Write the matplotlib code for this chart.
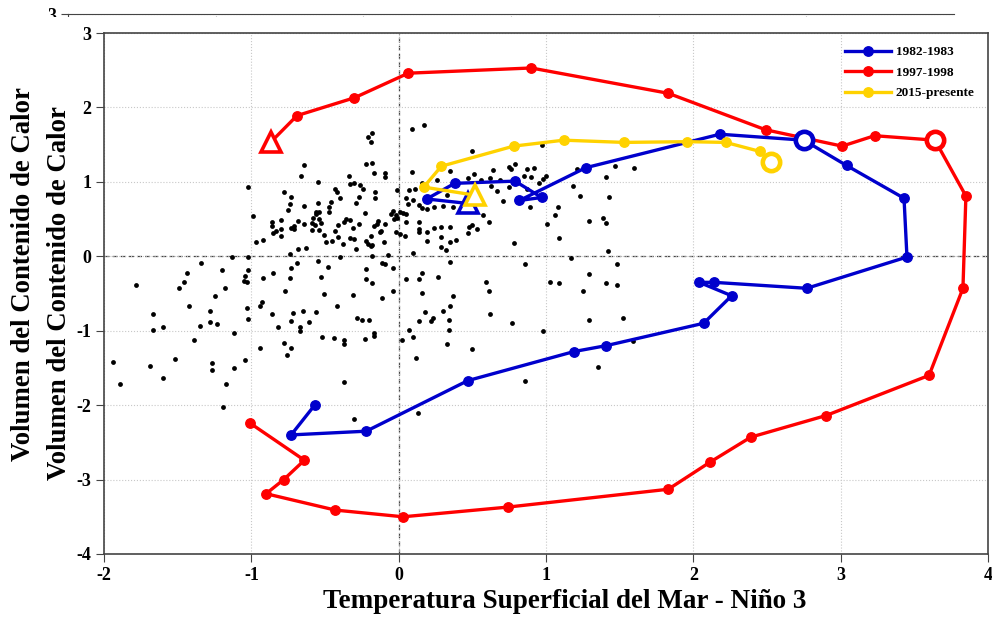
import numpy as np
import matplotlib.pyplot as plt
from matplotlib.patches import Rectangle

plt.rcParams['font.family'] = ['Liberation Serif', 'DejaVu Serif']
plt.rcParams['font.weight'] = 'bold'
plt.rcParams['axes.unicode_minus'] = False

# puntos mensuales observados (TSM Nino 3, contenido de calor)
sst_obs = [
    -1.02, -0.64, -0.66, -0.55, -0.22, -0.18, -0.17, -0.09, -0.09, -0.34,
    -0.78, -0.73, -0.74, -0.75, -0.64, -0.55, -0.56, -0.54, -0.43, -0.42,
    -0.40, -0.33, -0.30, -0.29, -0.27, -0.26, -0.24, -0.16, -0.16, -0.01,
    0.05, 0.06, 0.07, -0.99, -0.86, -0.86, -0.85, -0.83, -0.80, -0.80,
    -0.80, -0.97, -0.92, -0.68, -0.71, -0.73, -0.71, -0.64, -0.59, -0.59,
    -0.58, -0.57, -0.56, -0.54, -0.53, -0.54, -0.51, -0.49, -0.47, -0.47,
    -0.46, -0.45, -0.43, -0.41, -0.41, -0.38, -0.37, -0.36, -0.33, -0.33,
    -0.31, -0.30, -0.29, -0.27, -0.23, -0.22, -0.21, -0.19, -0.19, -0.18,
    -0.17, -0.15, -0.14, -0.13, -0.12, -0.10, -0.09, -0.05, -0.04, -0.03,
    -0.02, -0.01, 0.01, 0.03, 0.05, 0.05, -0.02, 0.01, 0.04, -1.34,
    -1.44, -1.46, -1.49, -1.78, -1.13, -1.02, -1.20, -1.18, -1.02, -1.04,
    -1.05, -1.03, -0.92, -0.85, -0.74, -0.73, -0.69, -0.68, -0.63, -0.74,
    -0.55, -0.48, -0.53, -0.40, -0.18, -0.07, -0.11, -0.09, -0.04, -0.22,
    -0.22, -0.18, -0.11, -0.04, 0.05, -1.25, -1.42, -1.28, -1.28, -1.23,
    -1.35, -1.39, -1.67, -1.67, -1.60, -1.12, -1.03, -1.02, -0.94, -0.93,
    -0.86, -0.82, -0.77, -0.72, -0.73, -0.67, -0.67, -0.65, -0.61, -0.56,
    -0.51, -0.42, -0.52, -0.44, -0.37, -0.37, -0.31, -0.28, -0.25, -0.20,
    -0.23, -0.17, -0.17, 0.02, 0.07, -1.94, -1.89, -1.69, -1.60, -1.52,
    -1.27, -1.27, -1.17, -1.12, -1.04, -0.94, -0.78, -0.76, -0.73, -0.37,
    -1.19, -0.30, -0.21, -0.19, -0.18,
    0.09, 0.17, 0.50, 0.97, 0.35, 0.09, 0.11, 0.16, 0.26, 0.47,
    0.51, 0.56, 0.62, 0.64, 0.69, 0.75, 0.76, 0.79, 0.87, 0.92,
    0.85, 0.90, 0.95, 0.98, 1.00, 0.67, 0.71, 0.63, 0.75, 0.87,
    0.89, 1.08, 1.06, 1.18, 1.23, 1.21, 1.41, 1.43, 1.47, 1.60,
    1.29, 1.39, 1.41, 0.10, 0.14, 0.16, 0.19, 0.24, 0.30, 0.33,
    0.37, 0.14, 0.14, 0.14, 0.19, 0.24, 0.29, 0.29, 0.35, 0.39,
    0.35, 0.47, 0.48, 0.50, 0.53, 0.57, 0.61, 0.19, 0.29, 0.32,
    0.10, 0.16, 0.14, 0.16, 0.27, 0.35, 0.37, 0.35, 0.30, 0.34,
    0.18, 0.14, 0.22, 0.23, 0.34, 0.10, 0.12, 0.33, 0.50, 0.59,
    0.61, 0.62, 0.77, 0.78, 0.86, 0.98, 1.01, 1.03, 1.09, 1.09,
    1.17, 1.25, 1.29, 1.29, 1.41, 1.42, 1.48, 1.48, 1.52, 1.59,
    0.13, 0.86, 1.35,
]
wwv_obs = [
    0.93, 1.22, 1.08, 1.00, 1.24, 1.26, 1.12, 1.12, 1.06, 1.08,
    0.87, 0.79, 0.70, 0.62, 0.67, 0.72, 0.60, 0.59, 0.91, 0.86,
    0.78, 0.97, 0.99, 0.71, 0.79, 0.96, 0.90, 0.86, 0.78, 0.89,
    0.78, 0.70, 0.89, 0.54, 0.46, 0.41, 0.31, 0.34, 0.37, 0.49,
    0.27, 0.19, 0.22, 0.47, 0.41, 0.38, 0.36, 0.44, 0.45, 0.35,
    0.51, 0.42, 0.57, 0.50, 0.45, 0.35, 0.29, 0.19, 0.59, 0.66,
    0.73, 0.20, 0.34, 0.26, 0.42, 0.17, 0.46, 0.50, 0.24, 0.49,
    0.38, 0.23, 0.10, 0.43, 0.58, 0.21, 0.17, 0.14, 0.27, 0.15,
    0.41, 0.43, 0.47, 0.33, 0.34, 0.19, 0.44, 0.57, 0.61, 0.50,
    0.55, 0.52, 0.59, 0.58, 0.57, 0.46, 0.32, 0.30, 0.27, -0.09,
    -0.22, -0.35, -0.42, -0.39, -0.01, -0.01, -0.19, -0.42, -0.19, -0.27,
    -0.33, -0.34, -0.29, -0.22, -0.29, -0.16, -0.09, 0.10, 0.11, 0.03,
    -0.06, -0.14, -0.28, -0.01, 0.00, 0.02, -0.09, -0.10, -0.16, -0.17,
    -0.30, -0.36, -0.56, -0.46, -0.30, -0.54, -0.67, -0.73, -0.88, -0.91,
    -0.94, -1.13, -0.78, -0.99, -0.95, -1.03, -0.69, -0.84, -0.67, -0.61,
    -0.77, -0.95, -0.47, -0.76, -0.87, -0.95, -1.01, -0.74, -0.88, -0.75,
    -0.51, -0.67, -1.09, -1.10, -1.12, -1.18, -0.52, -0.83, -0.86, -0.86,
    -1.11, -1.03, -1.07, -1.12, -0.99, -1.42, -1.71, -1.48, -1.63, -1.38,
    -1.43, -1.53, -1.71, -1.50, -1.40, -1.23, -1.17, -1.33, -1.23, -1.69,
    -2.03, -2.18, 1.60, 1.53, 1.65,
    1.71, 1.77, 1.42, 1.49, 1.15, 1.13, 0.90, 0.99, 1.03, 1.05,
    1.11, 1.03, 1.05, 1.16, 1.03, 1.20, 1.17, 1.24, 1.17, 1.18,
    1.08, 1.06, 0.99, 1.04, 1.08, 0.88, 0.74, 0.95, 0.93, 0.91,
    0.66, 0.66, 0.56, 0.94, 0.81, 1.17, 1.06, 0.80, 1.21, 1.18,
    0.47, 0.52, 0.45, 0.75, 0.69, 0.65, 0.63, 0.66, 0.67, 0.82,
    0.66, 0.46, 0.37, 0.33, 0.33, 0.38, 0.39, 0.26, 0.39, 0.22,
    0.19, 0.31, 0.40, 0.42, 0.37, 0.56, 0.46, 0.20, 0.13, 0.08,
    0.05, -0.50, -0.30, -0.22, -0.28, -0.08, -0.54, -0.67, -0.74, -0.85,
    -0.75, -0.87, -0.87, -0.83, -0.99, -1.09, -1.37, -1.18, -1.25, -0.34,
    -0.47, -0.77, -0.90, 0.18, -0.11, -1.00, 0.43, -0.34, -0.36, 0.25,
    -0.02, -0.47, -0.24, -0.86, -0.36, 0.07, -0.10, -0.38, -0.83, -1.14,
    -2.10, -1.67, -1.49,
]

# 1982-1983
sst_8283 = [0.47, 0.19, 0.38, 0.79, 0.97, 0.82, 1.27, 2.18, 2.75, 3.04, 3.43,
            3.45, 2.77, 2.14, 2.04, 2.26, 2.07, 1.41, 1.19, 0.47, -0.22, -0.73, -0.57]
wwv_8283 = [0.71, 0.77, 0.98, 1.01, 0.79, 0.75, 1.19, 1.64, 1.56, 1.22, 0.78,
            -0.01, -0.43, -0.35, -0.35, -0.53, -0.90, -1.20, -1.28, -1.67, -2.35, -2.40, -2.00]
peak_8283 = 8

# 1997-1998
sst_9798 = [-0.865, -0.69, -0.30, 0.065, 0.90, 1.83, 2.49, 3.01, 3.23, 3.64, 3.85, 3.83,
            3.60, 2.90, 2.39, 2.11, 1.83, 0.74, 0.03, -0.43, -0.90, -0.78, -0.64, -1.01]
wwv_9798 = [1.54, 1.89, 2.13, 2.46, 2.53, 2.19, 1.70, 1.48, 1.62, 1.56, 0.81, -0.43,
            -1.60, -2.14, -2.43, -2.77, -3.13, -3.37, -3.50, -3.41, -3.19, -3.00, -2.74, -2.24]
peak_9798 = 9

# 2015-presente
sst_15 = [0.52, 0.17, 0.29, 0.78, 1.12, 1.53, 1.96, 2.22, 2.45, 2.53]
wwv_15 = [0.82, 0.93, 1.21, 1.48, 1.56, 1.53, 1.54, 1.53, 1.41, 1.27]
peak_15 = 9

yticks = list(range(-4, 4))

W, H = 992, 621
fig = plt.figure(figsize=(W / 100, H / 100), dpi=100)

ylab = 'Volumen del Contenido de Calor'
spine_c = '#444444'

# copia desplazada detras (solo se ve el borde superior y la etiqueta)
ax0 = fig.add_axes([68 / W, 1 - 535 / H, 886 / W, 521 / H], zorder=0)
ax0.set_xlim(-2, 4)
ax0.set_ylim(-4, 3)
ax0.set_xticks(range(-2, 5))
ax0.set_yticks(yticks)
ax0.set_yticklabels(['' if t < 3 else str(t) for t in yticks])
ax0.grid(True, ls=':', color='#c8c8c8', lw=0.8)
ax0.tick_params(axis='x', length=0, labelbottom=False)
ax0.tick_params(axis='y', direction='out', length=5, labelsize=13, color=spine_c)
ax0.spines['bottom'].set_visible(False)
ax0.spines['right'].set_visible(False)
for s in ax0.spines.values():
    s.set_color(spine_c)
ax0.set_ylabel(ylab, fontsize=19.3, fontweight='bold')
ax0.yaxis.set_label_coords(-0.0361, 0.5)

cover = Rectangle((38 / W, 0), 1 - 38 / W, 1 - 17 / H, transform=fig.transFigure,
                  facecolor='white', edgecolor='none', zorder=1)
fig.add_artist(cover)

ax = fig.add_axes([104 / W, 1 - 554 / H, 884 / W, 521 / H], zorder=2)
ax.set_xlim(-2, 4)
ax.set_ylim(-4, 3)
ax.set_xticks(range(-2, 5))
ax.set_yticks(yticks)
ax.grid(True, ls=':', color='#c8c8c8', lw=0.8)
ax.tick_params(direction='out', length=5.5, labelsize=13, color=spine_c)
for s in ax.spines.values():
    s.set_color(spine_c)
    s.set_linewidth(1.2)
ax.axhline(0, color='#444444', lw=0.9, ls=(0, (4, 2.5)), zorder=1.5)
ax.axvline(0, color='#444444', lw=0.9, ls=(0, (4, 2.5)), zorder=1.5)

ax.scatter(sst_obs, wwv_obs, s=12, c='black', linewidths=0, zorder=3)


def draw_series(x, y, color, label, peak, z):
    dots = [i for i in range(1, len(x)) if i != peak]
    ax.plot(x, y, color=color, lw=2.4, marker='o', ms=6.8, markevery=dots,
            label=label, zorder=z)
    ax.plot(x[0], y[0], marker='^', ms=15, mfc='white', mec=color, mew=2.6,
            ls='none', zorder=z + 0.1)
    ax.plot(x[peak], y[peak], marker='o', ms=12.5, mfc='white', mec=color,
            mew=3.3, ls='none', zorder=z + 0.1)


draw_series(sst_9798, wwv_9798, '#ff0000', '1997-1998', peak_9798, 4)
draw_series(sst_8283, wwv_8283, '#0000cc', '1982-1983', peak_8283, 5)
draw_series(sst_15, wwv_15, '#ffd200', '2015-presente', peak_15, 6)

h, l = ax.get_legend_handles_labels()
order = [1, 0, 2]
ax.legend([h[i] for i in order], [l[i] for i in order], loc='upper right',
          frameon=False, fontsize=9.5, handlelength=3.5, handletextpad=0.35,
          labelspacing=0.62, numpoints=1, borderaxespad=0.6)

ax.set_xlabel('Temperatura Superficial del Mar - Niño 3', fontsize=19.5,
              fontweight='bold', va='top')
ax.xaxis.set_label_coords(0.5215, -0.0672)
ax.set_ylabel(ylab, fontsize=19.3, fontweight='bold')
ax.yaxis.set_label_coords(-0.0362, 0.5)

plt.savefig('out.png', dpi=100)
